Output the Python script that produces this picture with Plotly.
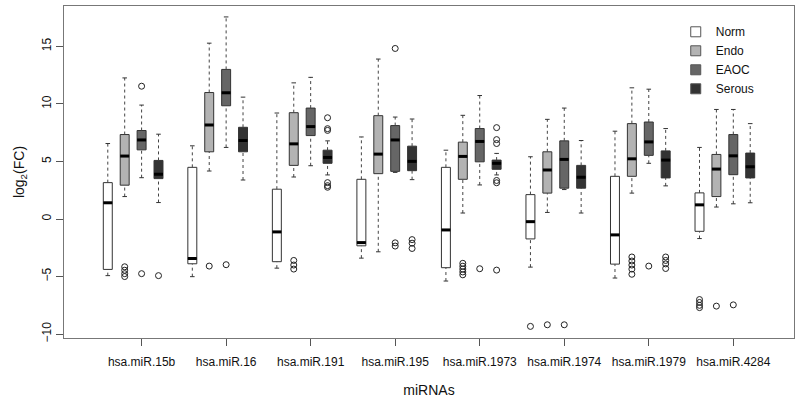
import plotly.graph_objects as go

mirnas = ["hsa.miR.15b", "hsa.miR.16", "hsa.miR.191", "hsa.miR.195",
          "hsa.miR.1973", "hsa.miR.1974", "hsa.miR.1979", "hsa.miR.4284"]
series = ["Norm", "Endo", "EAOC", "Serous"]
fills = ["#ffffff", "#b3b3b3", "#666666", "#333333"]

# Norm
norm_lo = [-4.92, -5.01, -4.27, -3.40, -5.39, -4.18, -5.13, -1.70]
norm_q1 = [-4.38, -3.89, -3.71, -2.33, -4.23, -1.73, -3.92, -1.07]
norm_med = [1.41, -3.43, -1.12, -2.05, -0.95, -0.23, -1.38, 1.23]
norm_q3 = [3.16, 4.49, 2.59, 3.45, 4.49, 2.12, 3.71, 2.27]
norm_hi = [6.56, 6.36, 9.21, 7.13, 5.98, 5.41, 7.63, 6.22]
norm_out = [[], [], [], [], [], [-9.33], [], [-7.0, -7.25, -7.5, -7.7]]

# Endo
endo_lo = [1.95, 4.17, 3.65, -2.85, 0.52, 0.57, 2.25, 1.04]
endo_q1 = [2.94, 5.84, 4.66, 3.94, 3.45, 2.25, 3.71, 1.95]
endo_med = [5.47, 8.17, 6.53, 5.64, 5.44, 4.26, 5.23, 4.34]
endo_q3 = [7.34, 10.99, 9.24, 8.98, 6.68, 5.84, 8.29, 5.61]
endo_hi = [12.26, 15.28, 11.83, 13.90, 9.01, 8.66, 11.40, 9.52]
endo_out = [[-4.15, -4.45, -4.75, -5.0], [-4.09], [-3.6, -4.0, -4.35], [],
            [-3.85, -4.1, -4.35, -4.6, -4.85], [-9.19],
            [-3.3, -3.65, -4.0, -4.35, -4.8], [-7.57]]

# EAOC
eaoc_lo = [3.59, 6.22, 4.63, 4.05, 2.96, 2.56, 4.84, 1.32]
eaoc_q1 = [6.01, 9.84, 7.25, 4.14, 4.97, 2.68, 5.53, 3.85]
eaoc_med = [6.87, 10.97, 8.03, 6.87, 6.74, 5.18, 6.70, 5.49]
eaoc_q3 = [7.69, 13.00, 9.64, 8.12, 7.86, 6.79, 8.43, 7.34]
eaoc_hi = [9.90, 17.56, 12.31, 8.86, 10.73, 9.64, 11.28, 9.52]
eaoc_out = [[11.54, -4.75], [-3.97], [], [14.82, -2.07, -2.35], [-4.32],
            [-9.19], [-4.09], [-7.46]]

# Serous
serous_lo = [1.43, 3.39, 3.83, 3.42, 3.83, 0.52, 2.88, 1.41]
serous_q1 = [3.51, 5.84, 4.84, 4.20, 4.32, 2.68, 3.57, 3.57]
serous_med = [3.89, 6.82, 5.35, 5.01, 4.84, 3.63, 5.12, 4.54]
serous_q3 = [5.09, 7.97, 5.98, 6.33, 5.12, 4.66, 5.92, 5.73]
serous_hi = [7.37, 10.59, 6.79, 8.69, 5.70, 6.82, 7.86, 8.29]
serous_out = [[-4.92], [], [8.8, 7.85, 7.7, 3.16, 2.9, 2.76],
              [-1.79, -2.1, -2.56], [7.94, 6.9, 6.56, 3.35, 3.15, -4.44],
              [], [-3.3, -3.6, -3.9, -4.3], []]

stats = [
    (norm_lo, norm_q1, norm_med, norm_q3, norm_hi, norm_out),
    (endo_lo, endo_q1, endo_med, endo_q3, endo_hi, endo_out),
    (eaoc_lo, eaoc_q1, eaoc_med, eaoc_q3, eaoc_hi, eaoc_out),
    (serous_lo, serous_q1, serous_med, serous_q3, serous_hi, serous_out),
]

BOXW = 0.53
CAPW = 0.27
GROUP = 5
FONT = "Liberation Sans, Arial, sans-serif"

fig = go.Figure()

for k, (name, col, st) in enumerate(zip(series, fills, stats)):
    lo, q1, med, q3, hi, outs = st
    pos = [g * GROUP + k for g in range(len(mirnas))]

    # dashed whiskers
    wx, wy = [], []
    for p, a, b, c, d in zip(pos, lo, q1, q3, hi):
        wx += [p, p, None, p, p, None]
        wy += [a, b, None, c, d, None]
    fig.add_trace(go.Scatter(x=wx, y=wy, mode="lines", showlegend=False,
                             hoverinfo="skip",
                             line=dict(color="#444444", width=1, dash="3px,3px")))
    # caps
    cx, cy = [], []
    for p, a, d in zip(pos, lo, hi):
        cx += [p - CAPW / 2, p + CAPW / 2, None, p - CAPW / 2, p + CAPW / 2, None]
        cy += [a, a, None, d, d, None]
    fig.add_trace(go.Scatter(x=cx, y=cy, mode="lines", showlegend=False,
                             hoverinfo="skip",
                             line=dict(color="#333333", width=1)))
    # boxes
    fig.add_trace(go.Box(x=pos, q1=q1, median=med, q3=q3,
                         lowerfence=q1, upperfence=q3, width=BOXW,
                         whiskerwidth=0, fillcolor=col, boxpoints=False,
                         line=dict(color="#333333", width=1),
                         showlegend=False, name=name))
    # thick medians
    mx, my = [], []
    for p, m in zip(pos, med):
        mx += [p - BOXW / 2, p + BOXW / 2, None]
        my += [m, m, None]
    fig.add_trace(go.Scatter(x=mx, y=my, mode="lines", showlegend=False,
                             hoverinfo="skip",
                             line=dict(color="#000000", width=3)))
    # outliers
    ox, oy = [], []
    for p, o in zip(pos, outs):
        for v in o:
            ox.append(p)
            oy.append(v)
    fig.add_trace(go.Scatter(x=ox, y=oy, mode="markers", showlegend=False,
                             hoverinfo="skip",
                             marker=dict(symbol="circle-open", size=6,
                                         color="#222222", line=dict(width=1))))
    # legend entry
    fig.add_trace(go.Scatter(x=[None], y=[None], mode="markers", name=name,
                             marker=dict(symbol="square", size=10, color=col,
                                         line=dict(color="#555555", width=1))))

tickpos = [g * GROUP + 2 for g in range(len(mirnas))]

fig.update_layout(
    width=800, height=400,
    margin=dict(l=64, r=5, t=5, b=61),
    paper_bgcolor="white", plot_bgcolor="white",
    font=dict(family=FONT, size=12, color="#111111"),
    showlegend=True,
    legend=dict(x=0.838, y=0.966, xanchor="left", yanchor="top",
                bgcolor="rgba(0,0,0,0)", borderwidth=0,
                font=dict(size=12), itemwidth=30),
    xaxis=dict(range=[-2.59, 40.59], tickvals=tickpos, ticktext=mirnas,
               showgrid=False, zeroline=False, showline=True, mirror=True,
               linecolor="#777777", linewidth=1, ticks="outside", ticklen=7,
               tickcolor="#555555", tickfont=dict(size=12),
               ticklabelstandoff=6,
               title=dict(text="miRNAs", standoff=16)),
    yaxis=dict(range=[-10.34, 18.51], tickvals=[-10, -5, 0, 5, 10, 15],
               showgrid=False, zeroline=False, showline=True, mirror=True,
               linecolor="#777777", linewidth=1, ticks="outside", ticklen=7,
               tickcolor="#555555", tickangle=-90, tickfont=dict(size=12),
               title=dict(text="log<sub>2</sub>(FC)", standoff=12)),
)

fig.write_html("out.html",
               config={"displayModeBar": False},
               post_script="document.body.style.margin='0px';")
